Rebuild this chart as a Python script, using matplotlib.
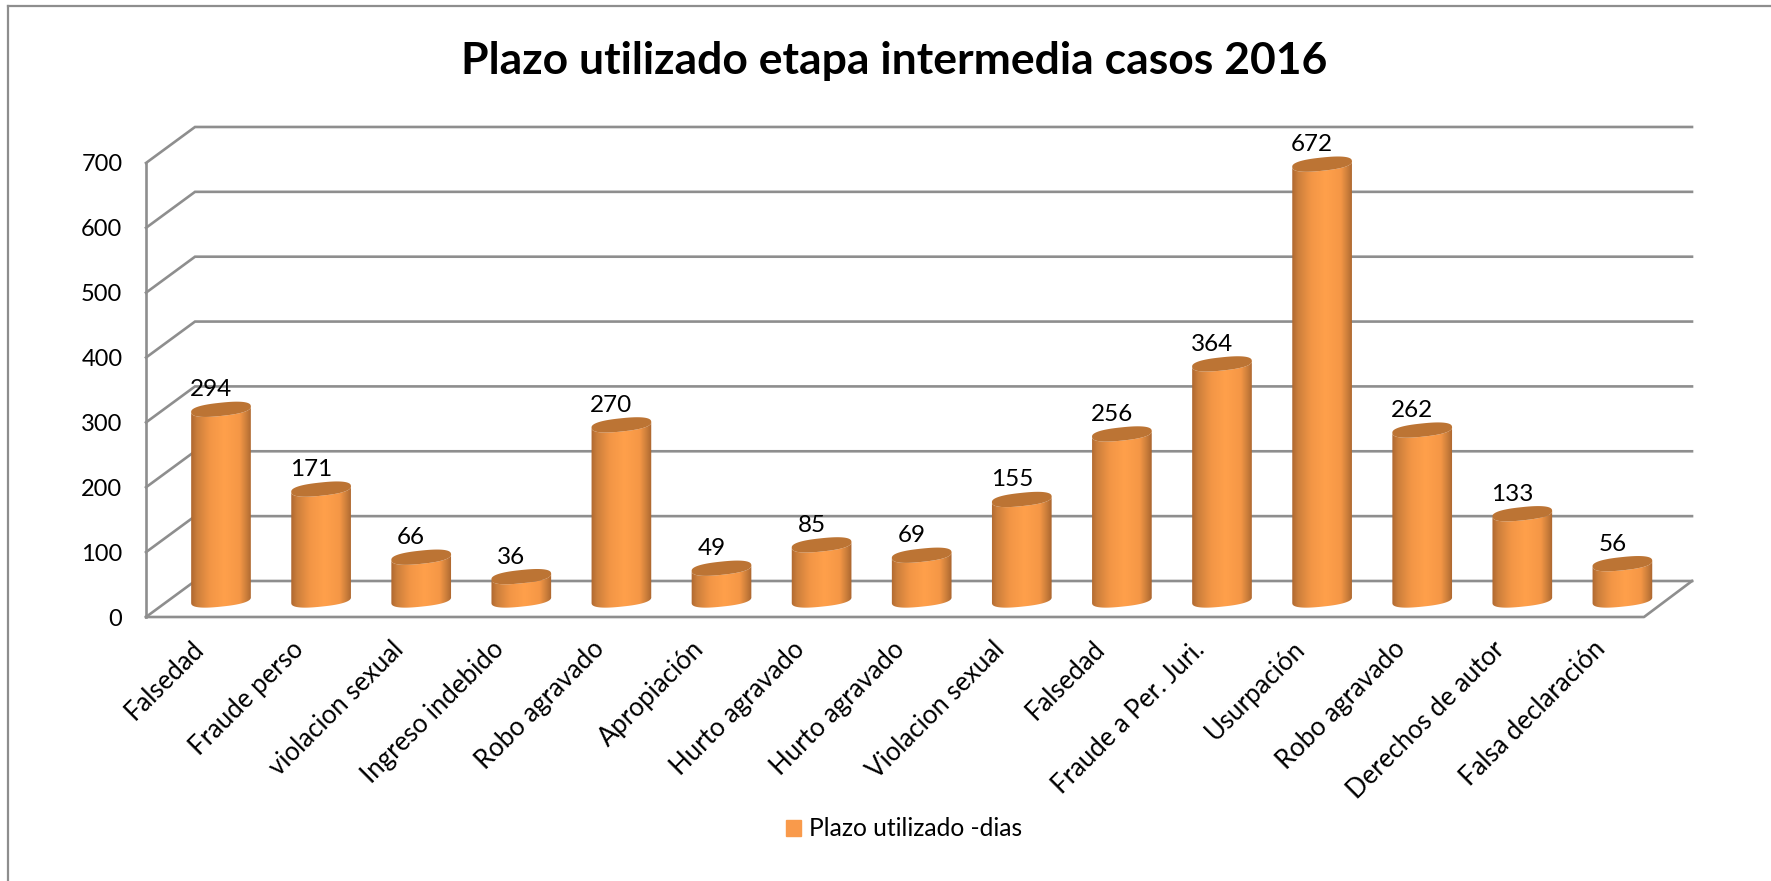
import numpy as np
import matplotlib
matplotlib.use('Agg')
import matplotlib.pyplot as plt
from matplotlib.colors import LinearSegmentedColormap
from matplotlib.lines import Line2D
from matplotlib.patches import Patch, Polygon
from matplotlib.transforms import ScaledTranslation

plt.rcParams['font.family'] = ['Lato', 'DejaVu Sans']

# data
categories = ['Falsedad', 'Fraude perso', 'violacion sexual', 'Ingreso indebido',
              'Robo agravado', 'Apropiación', 'Hurto agravado', 'Hurto agravado',
              'Violacion sexual', 'Falsedad', 'Fraude a Per. Juri.', 'Usurpación',
              'Robo agravado', 'Derechos de autor', 'Falsa declaración']
plazo = [294, 171, 66, 36, 270, 49, 85, 69, 155, 256, 364, 672, 262, 133, 56]
y_ticks = [0, 100, 200, 300, 400, 500, 600, 700]

W, H = 1771, 881
fig = plt.figure(figsize=(W / 100, H / 100), dpi=100)

# axes box in pixels (front-left corner to back-right corner of the 3d box)
left, right, top, bottom = 146, 1692, 125.5, 617
ax = fig.add_axes([left / W, 1 - bottom / H, (right - left) / W, (bottom - top) / H])

# scales
sx = 100.1      # px per category
sy = 0.6486     # px per unit
x0 = 221        # px of first bar
y0 = 600        # px of value 0 at bar depth
ax_xlim = ((left - x0) / sx, (right - x0) / sx)
ax_ylim = ((y0 - bottom) / sy, (y0 - top) / sy)

front = (y0 - 617) / sy     # value offset of the front plane
back = (y0 - 581) / sy      # value offset of the back wall
x_fl = ax_xlim[0]           # front left
x_bl = (195 - x0) / sx      # back left
x_fr = (1644 - x0) / sx     # front right
x_br = ax_xlim[1]           # back right

GRID = '#8E8E8E'
lw = 1.9
for v in y_ticks:
    ax.plot([x_fl, x_bl, x_br], [v + front, v + back, v + back], color=GRID, lw=lw,
            solid_joinstyle='miter', clip_on=False, zorder=1)
ax.plot([x_fl, x_fl], [front, 700 + front], color=GRID, lw=lw, clip_on=False, zorder=1)
ax.plot([x_fl, x_fr, x_br], [front, front, back], color=GRID, lw=lw, clip_on=False, zorder=1)

# cylinders
stops = [(0.0, '#AE6730'), (0.10, '#CC7F3C'), (0.32, '#F39646'), (0.55, '#FFA04B'),
         (0.80, '#F59746'), (0.92, '#C87C3A'), (1.0, '#A9642E')]
cmap = LinearSegmentedColormap.from_list('cyl', stops)
grad = np.linspace(0, 1, 256).reshape(1, -1)

a, b = 30.0, 6.6        # ellipse radii, px
phi = np.radians(6)
p = 0.8                 # a bit squarer than a true ellipse


def ellipse(t):
    # ellipse offsets, returned in data units
    c = np.sign(np.cos(t)) * np.abs(np.cos(t)) ** p
    s = np.sign(np.sin(t)) * np.abs(np.sin(t)) ** p
    ex = a * c * np.cos(phi) - b * s * np.sin(phi)
    ey = a * c * np.sin(phi) + b * s * np.cos(phi)
    return ex / sx, ey / sy


t_low = np.linspace(np.pi, 2 * np.pi, 60)
t_all = np.linspace(0, 2 * np.pi, 120)
half_w = a * np.cos(phi) / sx

for i, v in enumerate(plazo):
    ex, ey = ellipse(t_low)
    bx, by = i + ex, ey
    tx, ty = i + ex[::-1], v + ey[::-1]
    verts = np.vstack([np.column_stack([bx, by]), np.column_stack([tx, ty])])
    body = Polygon(verts, closed=True, fc='none', ec='none', transform=ax.transData)
    ax.add_patch(body)
    im = ax.imshow(grad, cmap=cmap, aspect='auto', zorder=3,
                   extent=[i - half_w * 1.02, i + half_w * 1.02, -40, v + 40])
    im.set_clip_path(body)
    ex, ey = ellipse(t_all)
    ax.fill(i + ex, v + ey, color='#BC7434', lw=0, zorder=4)
    ax.annotate(str(v), (i, v), xytext=(-10, 9), textcoords='offset pixels',
                ha='center', va='bottom', fontsize=17.5, color='black', zorder=5,
                annotation_clip=False)

ax.set_xlim(ax_xlim)
ax.set_ylim(ax_ylim)

ax.set_xticks(range(len(categories)))
ax.set_xticklabels(categories, rotation=45, ha='right', rotation_mode='anchor', fontsize=18.5)
ax.set_yticks([v + front for v in y_ticks])
ax.set_yticklabels([str(v) for v in y_ticks], fontsize=17)
ax.tick_params(axis='both', length=0)
ax.tick_params(axis='y', pad=17)
ax.tick_params(axis='x', pad=14)
shift = ScaledTranslation(-30 / 100, 0, fig.dpi_scale_trans)
for lab in ax.get_xticklabels():
    lab.set_transform(lab.get_transform() + shift)
for s in ax.spines.values():
    s.set_visible(False)
ax.patch.set_visible(False)

fig.text(894 / W, 1 - 61 / H, 'Plazo utilizado etapa intermedia casos 2016',
         ha='center', va='center', fontsize=32, fontweight='bold', color='black')

ax.legend(handles=[Patch(color='#F99A4B', label='Plazo utilizado -dias')],
          loc='center', bbox_to_anchor=(904 / W, 1 - 829 / H),
          bbox_transform=fig.transFigure, frameon=False, fontsize=17.7,
          handlelength=0.61, handleheight=0.61, handletextpad=0.3)

# outer frame, only left and top are visible
fig.add_artist(Line2D([8 / W, 8 / W], [0, 1 - 5.5 / H], color=GRID, lw=1.6))
fig.add_artist(Line2D([8 / W, 1], [1 - 5.5 / H, 1 - 5.5 / H], color=GRID, lw=1.6))

fig.savefig('out.png', dpi=100)
